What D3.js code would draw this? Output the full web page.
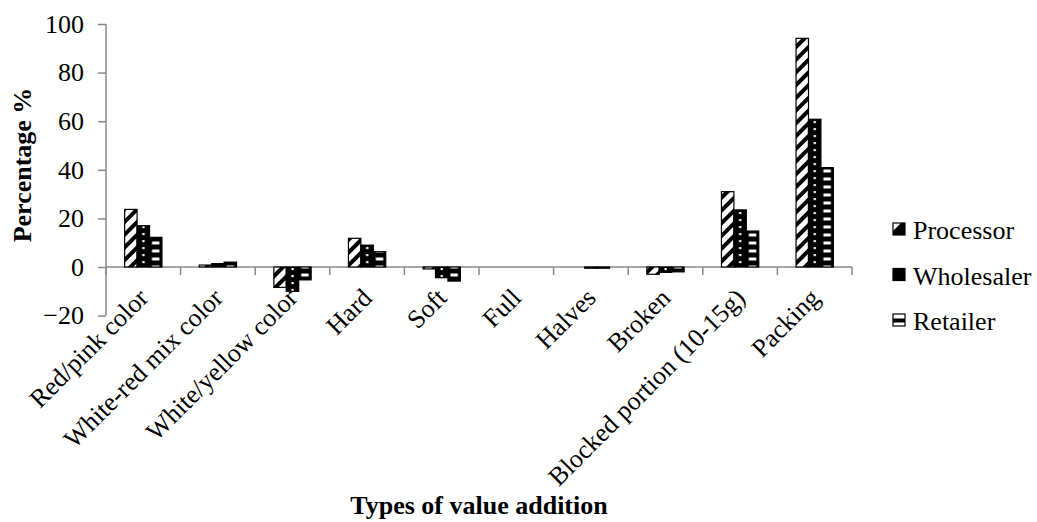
<!DOCTYPE html>
<html>
<head>
<meta charset="utf-8">
<script src="https://cdn.jsdelivr.net/npm/d3@7"></script>
<style>
  body { margin: 0; background: #fff; }
  svg text { font-family: 'Liberation Serif', 'DejaVu Serif', serif !important; fill: #000; }
</style>
</head>
<body>
<svg id="chart" width="1037" height="522" font-family="'Liberation Serif', serif"></svg>
<script>
"use strict"

var categories = ["Red/pink color", "White-red mix color", "White/yellow color", "Hard", "Soft",
                  "Full", "Halves", "Broken", "Blocked portion (10-15g)", "Packing"];
var seriesNames = ["Processor", "Wholesaler", "Retailer"];
var processor  = [23.7, 0.8, -8.4, 11.8, -0.8, 0, 0,    -3,   31,   94.1];
var wholesaler = [17,   1.4, -10,  9,    -4.4, 0, -0.5, -2.2, 23.5, 60.8];
var retailer   = [12.2, 2,   -5.3, 6.3,  -5.8, 0, -0.5, -2,   14.8, 40.9];
var yTicks = [-20, 0, 20, 40, 60, 80, 100];

var svg = d3.select("#chart"),
    serif = "'Liberation Serif', serif",
    plotLeft = 106, plotRight = 852, plotTop = 24, plotBottom = 315.6,
    axisColor = "#888";

var x = d3.scaleBand().domain(categories).range([plotLeft, plotRight]).paddingInner(0).paddingOuter(0);
var y = d3.scaleLinear().domain([-20, 100]).range([plotBottom, plotTop]);
var barW = x.bandwidth() / 6;
var xs = d3.scaleBand().domain(seriesNames).range([x.bandwidth() / 4, x.bandwidth() * 3 / 4]);

// patterns
var defs = svg.append("defs");
var firstBar = x(categories[0]) + xs(seriesNames[0]);

var p0 = defs.append("pattern").attr("id", "pat0")
    .attr("patternUnits", "userSpaceOnUse").attr("width", 9).attr("height", 9)
    .attr("patternTransform", "rotate(45)");
p0.append("rect").attr("width", 9).attr("height", 9).attr("fill", "#fff");
p0.append("rect").attr("width", 4).attr("height", 9).attr("fill", "#000");

var p1 = defs.append("pattern").attr("id", "pat1")
    .attr("patternUnits", "userSpaceOnUse").attr("x", firstBar + barW).attr("y", 0)
    .attr("width", barW).attr("height", 7);
p1.append("rect").attr("width", barW).attr("height", 7).attr("fill", "#000");
p1.append("rect").attr("x", barW / 2 - 1).attr("y", 2).attr("width", 2.2).attr("height", 2.2).attr("fill", "#fff");

var p2 = defs.append("pattern").attr("id", "pat2")
    .attr("patternUnits", "userSpaceOnUse").attr("x", firstBar + 2 * barW).attr("y", 0)
    .attr("width", barW).attr("height", 8);
p2.append("rect").attr("width", barW).attr("height", 8).attr("fill", "#000");
p2.append("rect").attr("x", 2.5).attr("y", 1.5).attr("width", barW - 5).attr("height", 3).attr("fill", "#fff");

// legend swatch patterns
var lp0 = defs.append("pattern").attr("id", "lpat0")
    .attr("patternUnits", "objectBoundingBox").attr("width", 1).attr("height", 1);
lp0.append("rect").attr("width", 12).attr("height", 12).attr("fill", "#000");
lp0.append("path").attr("d", "M0,0H8L0,8Z").attr("fill", "#fff");
var lp2 = defs.append("pattern").attr("id", "lpat2")
    .attr("patternUnits", "objectBoundingBox").attr("width", 1).attr("height", 1);
lp2.append("rect").attr("width", 12).attr("height", 12).attr("fill", "#fff");
lp2.append("rect").attr("y", 4.5).attr("width", 12).attr("height", 4).attr("fill", "#000");

var series = [processor, wholesaler, retailer];

// axes
var yAxis = svg.append("g").attr("transform", "translate(" + plotLeft + ",0)")
    .call(d3.axisLeft(y).tickValues(yTicks).tickSize(8).tickPadding(14).tickFormat(d3.format("d")))
    .attr("font-family", serif).attr("font-size", 26);
yAxis.select(".domain").attr("stroke", axisColor).attr("stroke-width", 1.5)
    .attr("d", "M0," + plotTop + "V" + plotBottom);
yAxis.selectAll(".tick line").attr("stroke", axisColor).attr("stroke-width", 1.5);
yAxis.selectAll(".tick text").attr("fill", "#000");

var xAxis = svg.append("g");
xAxis.append("line").attr("x1", plotLeft).attr("x2", plotRight).attr("y1", y(0)).attr("y2", y(0))
    .attr("stroke", axisColor).attr("stroke-width", 1.5);
xAxis.selectAll(".xt").data(categories.concat(["end"])).enter().append("line")
    .attr("x1", function(d, i){ return i < categories.length ? x(d) : plotRight; })
    .attr("x2", function(d, i){ return i < categories.length ? x(d) : plotRight; })
    .attr("y1", y(0)).attr("y2", y(0) + 8)
    .attr("stroke", axisColor).attr("stroke-width", 1.5);

// bars
series.forEach(function(vals, k){
    svg.append("g").selectAll("rect").data(vals).enter().append("rect")
        .attr("x", function(d, i){ return x(categories[i]) + xs(seriesNames[k]); })
        .attr("width", barW)
        .attr("y", function(d){ return y(Math.max(0, d)); })
        .attr("height", function(d){ return Math.abs(y(d) - y(0)); })
        .attr("fill", "url(#pat" + k + ")")
        .attr("stroke", "#000").attr("stroke-width", 1.2);
});

// category labels
svg.append("g").attr("font-family", serif).attr("font-size", 26)
    .selectAll("text").data(categories).enter().append("text")
    .attr("transform", function(d){ return "translate(" + (x(d) + x.bandwidth() / 2) + "," + (y(0) + 26) + ") rotate(-45)"; })
    .attr("text-anchor", "end").attr("dy", "0.35em")
    .text(function(d){ return d; });

// axis titles
svg.append("text").attr("transform", "translate(31,165) rotate(-90)")
    .attr("text-anchor", "middle").attr("font-size", 26).attr("font-weight", "bold")
    .text("Percentage %");
svg.append("text").attr("x", 479).attr("y", 514)
    .attr("text-anchor", "middle").attr("font-size", 26).attr("font-weight", "bold")
    .text("Types of value addition");

// legend
var legend = svg.append("g").attr("font-family", serif).attr("font-size", 26)
    .selectAll("g").data(seriesNames).enter().append("g")
    .attr("transform", function(d, i){ return "translate(893," + (223 + i * 45.5) + ")"; });
legend.append("rect").attr("width", 12).attr("height", 12)
    .attr("fill", function(d, i){ return ["url(#lpat0)", "#000", "url(#lpat2)"][i]; })
    .attr("stroke", "#000").attr("stroke-width", 1.2);
legend.append("text").attr("x", 20).attr("y", 16)
    .text(function(d){ return d; });
</script>
</body>
</html>
